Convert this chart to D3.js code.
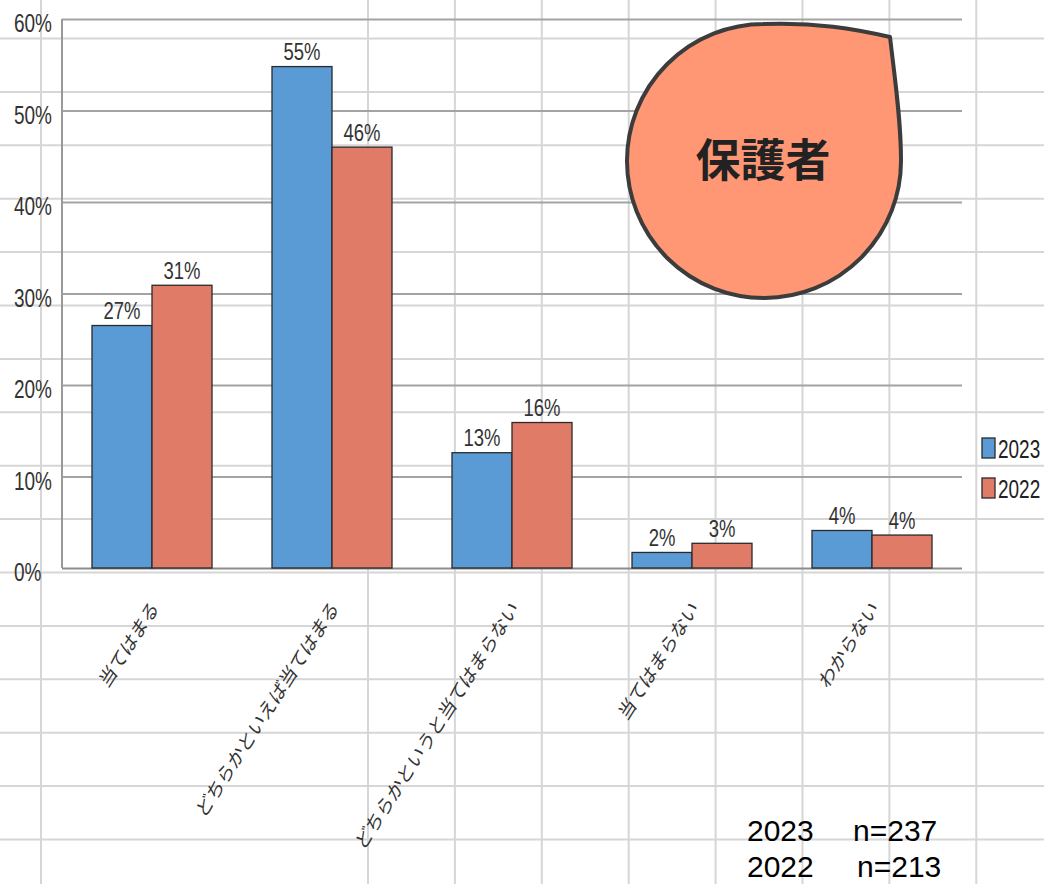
<!DOCTYPE html>
<html>
<head>
<meta charset="utf-8">
<script src="https://cdn.jsdelivr.net/npm/d3@7"></script>
<style>
  html, body { margin: 0; padding: 0; background: #fff; }
  svg { display: block; }
</style>
</head>
<body>
<svg id="chart" width="1044" height="884"></svg>
<script>
// Survey answers (guardians), share of respondents in percent
const categories = [
  "当てはまる",
  "どちらかといえば当てはまる",
  "どちらかというと当てはまらない",
  "当てはまらない",
  "わからない"
];
const seriesNames = ["2023", "2022"];
const values2023 = [26.5, 54.8, 12.6, 1.7, 4.1];
const values2022 = [30.9, 46.0, 15.9, 2.7, 3.6];
const yTickValues = [0, 10, 20, 30, 40, 50, 60];
const sampleYears = ["2023", "2022"];
const sampleSizes = [237, 213];
const badgeTitle = "保護者";

const colors = { "2023": "#5b9bd5", "2022": "#e07b67" };
const latin = "'Liberation Sans', Arial, sans-serif";
const cjk = "'Noto Sans CJK JP', 'Noto Sans CJK SC', sans-serif";

const svg = d3.select("#chart");
const W = 1044, H = 884;

// --- worksheet cell grid behind the chart ---
const sheet = svg.append("g").attr("stroke", "#d6d6d6").attr("stroke-width", 2);
const rowLines = d3.range(16).map(k => 38.5 + 53.4 * k);
const colLines = [41].concat(d3.range(8).map(k => 368 + 86.9 * k));
sheet.selectAll("line.row").data(rowLines).join("line")
  .attr("class", "row").attr("x1", 0).attr("x2", W).attr("y1", d => d).attr("y2", d => d);
sheet.selectAll("line.col").data(colLines).join("line")
  .attr("class", "col").attr("y1", 0).attr("y2", H).attr("x1", d => d).attr("x2", d => d);

// --- scales ---
const plot = { left: 62, right: 962, top: 19, bottom: 568 };
const x0 = d3.scaleBand().domain(categories).range([plot.left, plot.right])
  .paddingInner(1 / 3).paddingOuter(1 / 6);
const x1 = d3.scaleBand().domain(seriesNames).range([0, x0.bandwidth()]);
const y = d3.scaleLinear().domain([0, 60]).range([plot.bottom, plot.top]);

// --- value gridlines and percent labels ---
const yAxis = svg.append("g")
  .attr("transform", `translate(${plot.left},0)`)
  .call(d3.axisLeft(y).tickValues(yTickValues).tickSize(-(plot.right - plot.left))
    .tickFormat(d => d + "%"));
yAxis.select(".domain").remove();
yAxis.selectAll(".tick line")
  .attr("stroke", d => d === 0 ? "#8c8c8c" : "#a3a3a3").attr("stroke-width", 2);
yAxis.selectAll(".tick text")
  .attr("x", 0).attr("dy", null).attr("text-anchor", "start")
  .attr("transform", "translate(-48,12.5) scale(0.76,1)")
  .attr("fill", "#333").style("font-family", latin).style("font-size", "25px");

// vertical axis line
svg.append("line")
  .attr("x1", plot.left).attr("x2", plot.left)
  .attr("y1", y(60)).attr("y2", y(0))
  .attr("stroke", "#999").attr("stroke-width", 2);

// --- bars ---
const rows = categories.map((c, i) => ({
  category: c,
  items: [
    { series: "2023", value: values2023[i] },
    { series: "2022", value: values2022[i] }
  ]
}));

const groups = svg.append("g").selectAll("g").data(rows).join("g")
  .attr("transform", d => `translate(${x0(d.category)},0)`);

groups.selectAll("rect").data(d => d.items).join("rect")
  .attr("x", d => x1(d.series))
  .attr("y", d => y(d.value))
  .attr("width", x1.bandwidth())
  .attr("height", d => y(0) - y(d.value))
  .attr("fill", d => colors[d.series])
  .attr("stroke", "#2a2a2a").attr("stroke-width", 1.3);

groups.selectAll("text").data(d => d.items).join("text")
  .attr("transform", d => `translate(${x1(d.series) + x1.bandwidth() / 2},${y(d.value) - 6.5}) scale(0.77,1)`)
  .attr("text-anchor", "middle")
  .attr("fill", "#333")
  .style("font-family", latin).style("font-size", "24px")
  .text(d => Math.round(d.value) + "%");

// --- slanted category labels ---
svg.append("g").selectAll("text").data(categories).join("text")
  .attr("transform", d => `translate(${x0(d) + x0.bandwidth() / 2 + 3},604) scale(0.78,1) rotate(-50.5)`)
  .attr("text-anchor", "end")
  .attr("dy", "0.35em")
  .attr("fill", "#333")
  .style("font-family", cjk).style("font-size", "21px")
  .text(d => d);

// --- legend ---
const legend = svg.append("g").selectAll("g").data(seriesNames).join("g")
  .attr("transform", (d, i) => `translate(982,${438 + i * 40})`);
legend.append("rect")
  .attr("width", 13).attr("height", 20)
  .attr("fill", d => colors[d]).attr("stroke", "#2a2a2a").attr("stroke-width", 1.3);
legend.append("text")
  .attr("transform", "translate(16,20) scale(0.76,1)")
  .attr("fill", "#222")
  .style("font-family", latin).style("font-size", "25px")
  .text(d => d);

// --- badge ---
const badge = svg.append("g");
badge.append("path")
  .attr("d", "M 764 24 C 815 22 855 29 890 37 C 895 80 901 120 901 160 A 137 137 0 1 1 764 24 Z")
  .attr("fill", "#ff9775").attr("stroke", "#3c3c3c").attr("stroke-width", 4)
  .attr("stroke-linejoin", "round");
badge.append("text")
  .attr("x", 763).attr("y", 157)
  .attr("text-anchor", "middle").attr("dominant-baseline", "central")
  .attr("fill", "#222")
  .style("font-family", cjk).style("font-size", "45px").style("font-weight", "bold")
  .text(badgeTitle);

// --- respondent counts ---
const notes = svg.append("g").selectAll("g").data(sampleYears).join("g")
  .attr("transform", (d, i) => `translate(0,${841 + i * 36})`)
  .style("font-family", latin).style("font-size", "30px").attr("fill", "#000");
notes.append("text").attr("x", 747).text(d => d);
notes.append("text").attr("x", (d, i) => i === 0 ? 853 : 857).text((d, i) => "n=" + sampleSizes[i]);
</script>
</body>
</html>
